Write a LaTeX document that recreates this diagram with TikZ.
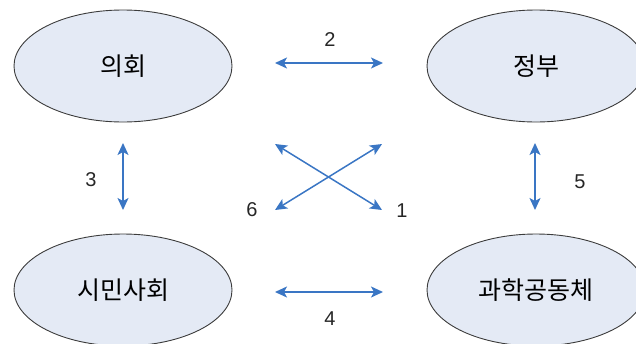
\documentclass[tikz,border=0pt]{standalone}
\usepackage{fontspec}
\setmainfont{Liberation Sans}
\newfontfamily\kr{Noto Sans CJK KR}
\usetikzlibrary{shapes.geometric,arrows.meta}
\definecolor{arrblue}{RGB}{58,118,196}
\definecolor{ellfill}{RGB}{228,234,245}
\definecolor{ellline}{RGB}{60,60,60}
\tikzset{
  actor/.style={ellipse,draw=ellline,line width=0.9pt,fill=ellfill,minimum width=218pt,minimum height=112pt,inner sep=0pt,font=\kr\fontsize{25}{29}\selectfont},
  link/.style={draw=arrblue,line width=1.5pt,{Stealth[length=12pt,width=11pt,inset=3pt]}-{Stealth[length=12pt,width=11pt,inset=3pt]}},
  num/.style={font=\fontsize{20}{24}\selectfont,text=black!85}
}
\begin{document}
\begin{tikzpicture}[x=1pt,y=-1pt]
\useasboundingbox (0,0) rectangle (636,343);
\clip (0,0) rectangle (636,343);
\node[actor] (uihoe) at (123,66) {의회};
\node[actor] (jeongbu) at (536,66) {정부};
\node[actor] (simin) at (123,290) {시민사회};
\node[actor] (gwahak) at (536,290) {과학공동체};
\coordinate (a2l) at (275,63); \coordinate (a2r) at (383,63);
\coordinate (a4l) at (275,292); \coordinate (a4r) at (383,292);
\coordinate (a3t) at (123,143); \coordinate (a3b) at (123,210);
\coordinate (a5t) at (535,143); \coordinate (a5b) at (535,210);
\coordinate (xtl) at (275,144); \coordinate (xbr) at (382,210);
\coordinate (xtr) at (382,144); \coordinate (xbl) at (275,210);
\draw[link] (a2l) -- (a2r);
\draw[link] (a4l) -- (a4r);
\draw[link] (a3t) -- (a3b);
\draw[link] (a5t) -- (a5b);
\draw[link] (xtl) -- (xbr);
\draw[link] (xtr) -- (xbl);
\node[num] (n2) at (330,40) {2};
\node[num] (n4) at (330,319) {4};
\node[num] (n3) at (91,180) {3};
\node[num] (n5) at (580,182) {5};
\node[num] (n6) at (252,210) {6};
\node[num] (n1) at (402,211) {1};
\end{tikzpicture}
\end{document}
